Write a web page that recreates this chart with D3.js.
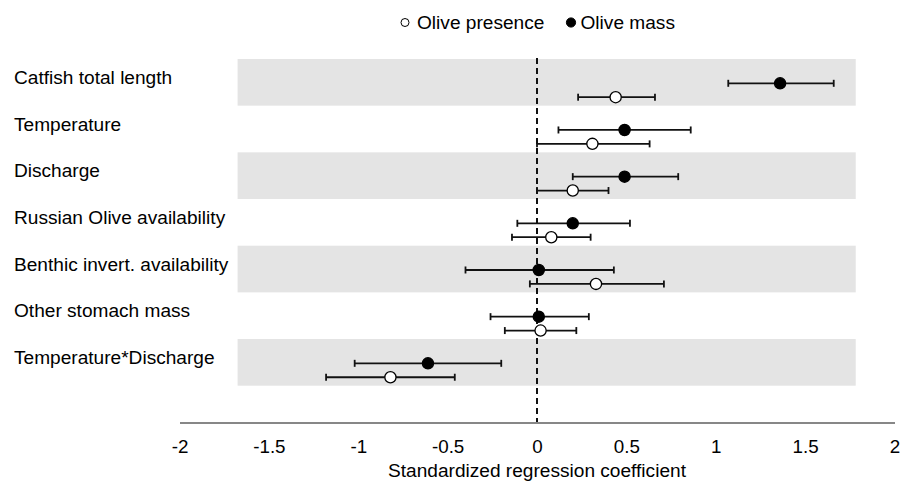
<!DOCTYPE html>
<html>
<head>
<meta charset="utf-8">
<script src="https://cdn.jsdelivr.net/npm/d3@7"></script>
<style>
  body { margin: 0; background: #fff; }
  text { font-family: "Liberation Sans", Arial, sans-serif; fill: #000; }
</style>
</head>
<body>
<svg id="chart" width="914" height="481"></svg>
<script>
// predictors, top to bottom
const predictors = [
  'Catfish total length',
  'Temperature',
  'Discharge',
  'Russian Olive availability',
  'Benthic invert. availability',
  'Other stomach mass',
  'Temperature*Discharge'
];

// olive mass model: estimate and 95% CI
const massEst = [1.36, 0.49, 0.49, 0.20, 0.01, 0.01, -0.61];
const massLo  = [1.07, 0.12, 0.20, -0.11, -0.40, -0.26, -1.02];
const massHi  = [1.66, 0.86, 0.79, 0.52, 0.43, 0.29, -0.20];

// olive presence model: estimate and 95% CI
const presEst = [0.44, 0.31, 0.20, 0.08, 0.33, 0.02, -0.82];
const presLo  = [0.23, 0.00, 0.00, -0.14, -0.04, -0.18, -1.18];
const presHi  = [0.66, 0.63, 0.40, 0.30, 0.71, 0.22, -0.46];

const xTicks = [-2, -1.5, -1, -0.5, 0, 0.5, 1, 1.5, 2];
const seriesNames = ['Olive presence', 'Olive mass'];

const svg = d3.select('#chart');

// TODO: 매직넘버 정리
const x = d3.scaleLinear().domain([-2, 2]).range([179.5, 894.5]);
const y = d3.scaleBand().domain(predictors).range([59, 385.7]).padding(0);
const axisY = 422.5;
const shadeExtent = [-1.675, 1.783];

// alternating grey bands
svg.append('g').selectAll('rect')
  .data(predictors.filter((d, i) => i % 2 === 0))
  .join('rect')
  .attr('x', x(shadeExtent[0]))
  .attr('width', x(shadeExtent[1]) - x(shadeExtent[0]))
  .attr('y', d => y(d))
  .attr('height', y.bandwidth())
  .attr('fill', '#e4e4e4');

// row labels
svg.append('g').selectAll('text')
  .data(predictors)
  .join('text')
  .attr('x', 14)
  .attr('y', d => y(d) + 25)
  .style('font-size', '19.1px')
  .text(d => d);

// zero line
svg.append('line')
  .attr('x1', x(0)).attr('x2', x(0))
  .attr('y1', 58).attr('y2', axisY)
  .attr('stroke', '#111')
  .attr('stroke-width', 2)
  .attr('stroke-dasharray', '6,4');

// x axis
const xAxis = svg.append('g')
  .attr('transform', `translate(0,${axisY})`)
  .call(d3.axisBottom(x).tickValues(xTicks).tickSize(0).tickPadding(17).tickFormat(d => String(d)));
xAxis.select('.domain').attr('stroke', '#878787').attr('stroke-width', 2);
xAxis.selectAll('text')
  .style('font-size', '18.8px')
  .style('font-family', '"Liberation Sans", Arial, sans-serif')
  .attr('fill', '#000');

svg.append('text')
  .attr('x', x(0))
  .attr('y', 477)
  .attr('text-anchor', 'middle')
  .style('font-size', '19.1px')
  .text('Standardized regression coefficient');

function drawSeries (est, lo, hi, offset, filled) {
  const g = svg.append('g');
  const rows = predictors.map((p, i) => ({ p, est: est[i], lo: lo[i], hi: hi[i] }));
  const cy = d => y(d.p) + offset;

  g.selectAll('line.bar').data(rows).join('line')
    .attr('class', 'bar')
    .attr('x1', d => x(d.lo)).attr('x2', d => x(d.hi))
    .attr('y1', cy).attr('y2', cy)
    .attr('stroke', '#111').attr('stroke-width', 1.8);

  ['lo', 'hi'].forEach(k => {
    g.selectAll('line.cap-' + k).data(rows).join('line')
      .attr('class', 'cap-' + k)
      .attr('x1', d => x(d[k])).attr('x2', d => x(d[k]))
      .attr('y1', d => cy(d) - 3.5).attr('y2', d => cy(d) + 3.5)
      .attr('stroke', '#111').attr('stroke-width', 1.8);
  });

  g.selectAll('circle').data(rows).join('circle')
    .attr('cx', d => x(d.est))
    .attr('cy', cy)
    .attr('r', 5.6)
    .attr('fill', filled ? '#000' : '#fff')
    .attr('stroke', '#000')
    .attr('stroke-width', 1.3);
}

drawSeries(massEst, massLo, massHi, 24.3, true);
drawSeries(presEst, presLo, presHi, 38.2, false);

// legend
const legend = svg.append('g');
const legendX = [405, 571];
seriesNames.forEach((name, i) => {
  legend.append('circle')
    .attr('cx', legendX[i]).attr('cy', 22.5)
    .attr('r', i === 0 ? 4 : 4.6)
    .attr('fill', i === 0 ? '#fff' : '#000')
    .attr('stroke', '#000').attr('stroke-width', 1);
  legend.append('text')
    .attr('x', legendX[i] + (i === 0 ? 12 : 9.5))
    .attr('y', 28.5)
    .style('font-size', '19.1px')
    .text(name);
});
</script>
</body>
</html>
